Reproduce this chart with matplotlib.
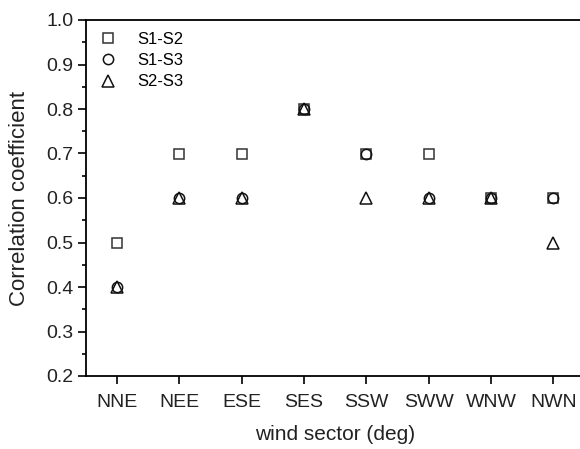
import matplotlib
matplotlib.use("Agg")
import matplotlib.pyplot as plt
from matplotlib.ticker import MultipleLocator

categories = ["NNE", "NEE", "ESE", "SES", "SSW", "SWW", "WNW", "NWN"]
s1_s2 = [0.5, 0.7, 0.7, 0.8, 0.7, 0.7, 0.6, 0.6]
s1_s3 = [0.4, 0.6, 0.6, 0.8, 0.7, 0.6, 0.6, 0.6]
s2_s3 = [0.4, 0.6, 0.6, 0.8, 0.6, 0.6, 0.6, 0.5]

plt.rcParams['font.family'] = ['Liberation Sans', 'DejaVu Sans']

fig = plt.figure(figsize=(5.8, 4.49), dpi=100)
ax = fig.add_axes([86/580, 73/449, (584.5-86)/580, (376-20)/449])

x = list(range(len(categories)))
ax.plot(x, s1_s2, linestyle='none', marker='s', markersize=6.6, markerfacecolor='none',
        markeredgecolor='#333333', markeredgewidth=1.1, label='S1-S2')
ax.plot(x, s1_s3, linestyle='none', marker='o', markersize=7.4, markerfacecolor='none',
        markeredgecolor='#111111', markeredgewidth=1.1, label='S1-S3')
ax.plot(x, s2_s3, linestyle='none', marker='^', markersize=8.2, markerfacecolor='none',
        markeredgecolor='#111111', markeredgewidth=1.1, label='S2-S3')

ax.set_xlim(-0.5, 7.5)
ax.set_ylim(0.2, 1.0)
ax.set_xticks(x)
ax.set_xticklabels(categories)
ax.yaxis.set_major_locator(MultipleLocator(0.1))
ax.yaxis.set_minor_locator(MultipleLocator(0.05))
ax.set_yticklabels([f"{v:.1f}" for v in ax.get_yticks()])

for side in ['left', 'bottom', 'top']:
    ax.spines[side].set_linewidth(1.3)
    ax.spines[side].set_color('black')
ax.spines['right'].set_visible(False)

ax.tick_params(axis='both', which='major', direction='out', length=6, width=1.2,
               labelsize=14, colors='black', labelcolor='#222222')
ax.tick_params(axis='y', which='minor', direction='out', length=3, width=1.2)
ax.tick_params(axis='x', which='major', pad=7)
ax.tick_params(axis='y', which='major', pad=3)

ax.set_xlabel('wind sector (deg)', fontsize=15, color='#222222', labelpad=10)
ax.set_ylabel('Correlation coefficient', fontsize=16, color='#222222', labelpad=12)

leg = ax.legend(loc='upper left', frameon=False, fontsize=12, handletextpad=1.1,
                handlelength=1.2, labelspacing=0.38, borderaxespad=0.2,
                bbox_to_anchor=(0.005, 0.995))

fig.savefig('out.png', dpi=100)
